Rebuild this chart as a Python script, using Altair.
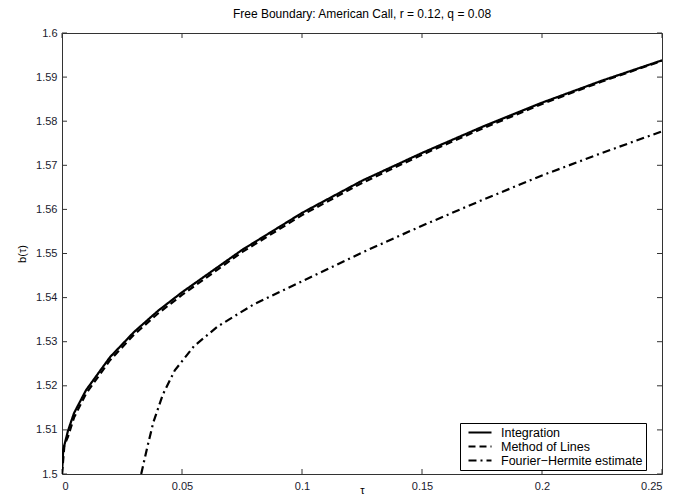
import altair as alt
import pandas as pd

# ---- data ----
series_names = ["Integration", "Method of Lines", "Fourier\u2212Hermite estimate"]

tau_int = [0, 0.0005, 0.0025, 0.005, 0.01, 0.02, 0.03, 0.04, 0.05, 0.075, 0.1,
           0.125, 0.15, 0.175, 0.2, 0.225, 0.25]
b_int = [1.5, 1.5055, 1.5098, 1.5138, 1.519, 1.5265, 1.5322, 1.537, 1.5412, 1.5508,
         1.5592, 1.5665, 1.5728, 1.5787, 1.5842, 1.5892, 1.5938]

tau_mol = [0, 0.001, 0.0025, 0.005, 0.01, 0.02, 0.03, 0.04, 0.05, 0.075, 0.1,
           0.125, 0.15, 0.175, 0.2, 0.225, 0.25]
b_mol = [1.5, 1.5065, 1.5085, 1.5128, 1.5182, 1.5258, 1.5316, 1.5364, 1.5406, 1.5503,
         1.5587, 1.566, 1.5724, 1.5783, 1.5839, 1.589, 1.5937]

tau_fh = [0.033, 0.0355, 0.038, 0.042, 0.047, 0.055, 0.065, 0.08, 0.1, 0.125,
          0.15, 0.175, 0.2, 0.225, 0.25]
b_fh = [1.5, 1.506, 1.5116, 1.518, 1.5235, 1.529, 1.5335, 1.5385, 1.5437, 1.5502,
        1.5563, 1.5621, 1.5677, 1.5728, 1.5777]

x_ticks = [0, 0.05, 0.1, 0.15, 0.2, 0.25]
y_ticks = [1.5, 1.51, 1.52, 1.53, 1.54, 1.55, 1.56, 1.57, 1.58, 1.59, 1.6]

rows = []
for name, ts, bs in zip(series_names, [tau_int, tau_mol, tau_fh], [b_int, b_mol, b_fh]):
    for t, b in zip(ts, bs):
        rows.append({"tau": t, "b": b, "series": name})
df = pd.DataFrame(rows)
xt = pd.DataFrame({"v": x_ticks})
yt = pd.DataFrame({"v": y_ticks})

W, H = 600, 441
FONT = "Liberation Sans"
INK = "#333333"
TICK = 5

xs = alt.Scale(domain=[0, 0.25], nice=False, zero=False)
ys = alt.Scale(domain=[1.5, 1.6], nice=False, zero=False)

xaxis = alt.Axis(title="\u03c4", values=x_ticks, format="~g", labelPadding=6,
                 titlePadding=-7, titleFontSize=11, titleFontWeight="normal",
                 grid=False, ticks=False, domain=False)
yaxis = alt.Axis(title="b(\u03c4)", values=y_ticks, format="~g", labelPadding=5,
                 titlePadding=8, titleFontSize=11, titleFontWeight="normal",
                 grid=False, ticks=False, domain=False)

lines = alt.Chart(df).mark_line(color="black", clip=True).encode(
    x=alt.X("tau:Q", scale=xs, axis=xaxis),
    y=alt.Y("b:Q", scale=ys, axis=yaxis),
    order=alt.Order("tau:Q"),
    strokeDash=alt.StrokeDash(
        "series:N",
        scale=alt.Scale(domain=series_names, range=[[1, 0], [7, 4], [8, 4, 2, 4]]),
        legend=alt.Legend(
            title=None, orient="none", legendX=398, legendY=390,
            strokeColor="black", fillColor="white", padding=3, cornerRadius=0,
            symbolType="M-1,0H3.6", symbolSize=100, symbolStrokeWidth=2,
            symbolStrokeColor="black", symbolFillColor="transparent",
            symbolOffset=4, labelOffset=21, rowPadding=1,
            labelFont=FONT, labelFontSize=12.5, labelColor="black",
        ),
    ),
    strokeWidth=alt.StrokeWidth(
        "series:N", scale=alt.Scale(domain=series_names, range=[2.2, 2.2, 2.3]), legend=None
    ),
)

tick_b = alt.Chart(xt).mark_rule(color=INK, strokeWidth=1).encode(
    x=alt.X("v:Q", scale=xs, axis=xaxis), y=alt.value(H), y2=alt.value(H - TICK))
tick_t = alt.Chart(xt).mark_rule(color=INK, strokeWidth=1).encode(
    x=alt.X("v:Q", scale=xs, axis=xaxis), y=alt.value(0), y2=alt.value(TICK))
tick_l = alt.Chart(yt).mark_rule(color=INK, strokeWidth=1).encode(
    y=alt.Y("v:Q", scale=ys, axis=yaxis), x=alt.value(0), x2=alt.value(TICK))
tick_r = alt.Chart(yt).mark_rule(color=INK, strokeWidth=1).encode(
    y=alt.Y("v:Q", scale=ys, axis=yaxis), x=alt.value(W), x2=alt.value(W - TICK))

chart = alt.layer(tick_b, tick_t, tick_l, tick_r, lines).properties(
    width=W, height=H,
    background="white",
    title=alt.TitleParams("Free Boundary: American Call, r = 0.12, q = 0.08",
                          font=FONT, fontSize=12, fontWeight="normal", color="black",
                          anchor="middle", offset=6),
    autosize=alt.AutoSizeParams(type="none"),
    padding={"left": 54, "top": 25, "right": 6, "bottom": 21},
).configure_view(stroke=INK, strokeWidth=1).configure_axis(
    labelFont=FONT, titleFont=FONT, labelFontSize=11, labelColor="#1a1a2e",
    titleColor="black", domain=False, ticks=False, grid=False,
)

chart.save("out.html", embed_options={"renderer": "svg", "actions": False})
